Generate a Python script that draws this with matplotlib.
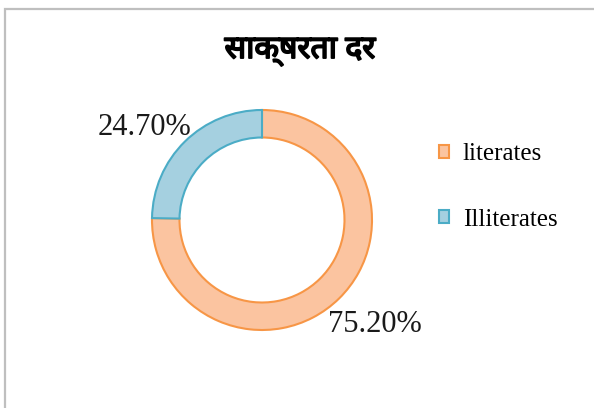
import matplotlib
matplotlib.use('Agg')
import matplotlib.pyplot as plt
import matplotlib.patheffects as pe
from matplotlib.patches import Rectangle
from matplotlib.transforms import offset_copy

title = 'साक्षरता दर'
categories = ['literates', 'Illiterates']
values = [75.20, 24.70]
fills = ['#FBC4A0', '#A5D0E0']
edges = ['#F79646', '#4BACC6']

W, H = 594, 408
fig = plt.figure(figsize=(W / 100, H / 100), dpi=100)

# chart border (cropped screenshot: only top and left edges visible)
fig.patches.append(Rectangle((5 / W, -0.1), 1.2, 1 - 9 / H + 0.1, transform=fig.transFigure,
                             fill=False, edgecolor='#BFBFBF', linewidth=1.6))

cx, cy, r = 262, 220, 110
ax = fig.add_axes([(cx - r) / W, (H - cy - r) / H, 2 * r / W, 2 * r / H])
wedges, texts = ax.pie(values, labels=[f'{v:.2f}%' for v in values], colors=fills,
                       startangle=90, counterclock=False, labeldistance=1.36,
                       wedgeprops=dict(width=0.25, linewidth=1.5),
                       textprops=dict(family='Liberation Serif', fontsize=22, color='#1a1a1a'))
for w, ec in zip(wedges, edges):
    w.set_edgecolor(ec)
# nudge labels the way the original layout placed them (pixels)
nudges = [(8, 2), (-13, -14)]
for t, (dx, dy) in zip(texts, nudges):
    t.set_ha('center')
    t.set_va('center')
    t.set_transform(offset_copy(ax.transData, fig=fig, x=dx, y=dy, units='dots'))
ax.set_xlim(-1.0, 1.0)
ax.set_ylim(-1.0, 1.0)

fig.text(300 / W, 1 - 50 / H, title, ha='center', va='center', fontsize=23, fontweight='bold',
         family=['Noto Sans Devanagari', 'Lohit Devanagari', 'FreeSans', 'Noto Sans', 'DejaVu Sans'],
         path_effects=[pe.withStroke(linewidth=1.3, foreground='black')])

fig.legend(wedges, categories, loc='center left', bbox_to_anchor=(416 / W, 1 - 187 / H),
           frameon=False, prop=dict(family='Liberation Serif', size=18),
           handlelength=0.42, handleheight=0.42, handletextpad=0.55, labelspacing=1.75)

fig.savefig('out.png', dpi=100, facecolor='white')
